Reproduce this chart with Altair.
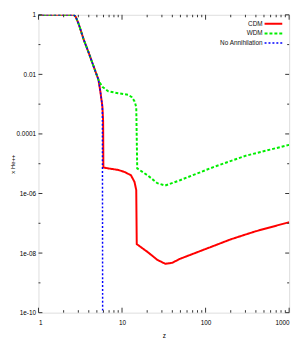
import altair as alt
import pandas as pd
import math

# ---- data ----
common_z = [1.0, 2.65, 2.80, 3.03, 3.48, 3.98, 4.56, 5.22]
common_y = [1.0, 1.0, 0.84, 0.49, 0.146, 0.0545, 0.0188, 0.00664]

cdm_z = common_z + [5.51, 5.82, 5.94, 5.98, 6.85, 8.97, 10.8, 12.8, 14.1, 14.8, 15.0,
                    20.2, 26.5, 32.9, 39.8, 49.4, 102.7, 202, 398, 1000]
cdm_y = common_y + [0.0026, 8.3e-4, 2.67e-4, 7.5e-6, 6.95e-6, 6.2e-6, 5.25e-6, 4.08e-6,
                    2.45e-6, 1.3e-6, 2.0e-8, 1.09e-8, 5.9e-9, 4.37e-9, 4.7e-9, 6.4e-9,
                    1.41e-8, 2.92e-8, 5.4e-8, 1.09e-7]

wdm_z = common_z + [5.36, 5.82, 6.85, 8.97, 11.8, 13.1, 14.2, 14.8, 15.2, 20.2, 26.5,
                    32.9, 49.4, 124, 304, 1000]
wdm_y = common_y + [5.57e-3, 3.81e-3, 2.71e-3, 2.32e-3, 2.07e-3, 1.71e-3, 1.22e-3,
                    7.7e-4, 6.95e-6, 4.08e-6, 2.22e-6, 1.85e-6, 2.79e-6, 7.7e-6,
                    1.86e-5, 4.3e-5]

noann_z = common_z + [5.51, 5.82, 5.86]
noann_y = common_y + [0.0026, 8.3e-4, 1e-10]

series_names = ["CDM", "WDM", "No Annihilation"]
series_colors = ["#ff0000", "#00ee00", "#0000ff"]

x_tick_values = [1, 10, 100, 1000]
x_tick_labels = ["1", "10", "100", "1000"]
x_minor = [m * d for d in [1, 10, 100] for m in range(2, 10)]
y_tick_values = [1, 1e-2, 1e-4, 1e-6, 1e-8, 1e-10]
y_tick_labels = ["1", "0.01", "0.0001", "1e-06", "1e-08", "1e-10"]
y_minor = [1e-1, 1e-3, 1e-5, 1e-7, 1e-9]

W, H = 255, 303
FONT = "Liberation Sans"
FS = 6.5


def make_df(zs, ys):
    return pd.DataFrame({"z": zs, "y": ys, "i": list(range(len(zs)))})


def label_expr(values, labels):
    expr = "''"
    for v, l in reversed(list(zip(values, labels))):
        e = round(math.log10(v))
        expr = f"(abs(log(datum.value)/LN10 - ({e})) < 0.5 ? '{l}' : {expr})"
    return expr


xscale = alt.Scale(type="log", domain=[1, 1000], nice=False)
yscale = alt.Scale(type="log", domain=[1e-10, 1], nice=False)

xenc = alt.X("z:Q", scale=xscale,
             axis=alt.Axis(values=x_tick_values, labelExpr=label_expr(x_tick_values, x_tick_labels),
                           title="z", ticks=False, domain=False, grid=False,
                           labelPadding=7, titlePadding=7, titleFontWeight="normal",
                           labelFont=FONT, labelFontSize=FS, titleFont=FONT, titleFontSize=FS))
yenc = alt.Y("y:Q", scale=yscale,
             axis=alt.Axis(values=y_tick_values, labelExpr=label_expr(y_tick_values, y_tick_labels),
                           title="x He++", ticks=False, domain=False, grid=False,
                           labelPadding=3, titlePadding=1, titleFontWeight="normal",
                           labelFont=FONT, labelFontSize=FS, titleFont=FONT, titleFontSize=6))


def line(zs, ys, color, dash, width):
    return alt.Chart(make_df(zs, ys)).mark_line(
        color=color, strokeDash=dash, strokeWidth=width, clip=True, interpolate="linear"
    ).encode(x=xenc, y=yenc, order=alt.Order("i:Q"))


red = line(cdm_z, cdm_y, series_colors[0], [1, 0], 2)
green = line(wdm_z, wdm_y, series_colors[1], [3, 2], 2)
blue = line(noann_z, noann_y, series_colors[2], [2, 2], 1.5)

# inward ticks
xmaj = pd.DataFrame({"z": x_tick_values})
xmin = pd.DataFrame({"z": x_minor})
ymaj = pd.DataFrame({"y": y_tick_values})
ymin = pd.DataFrame({"y": y_minor})
tc = "#333333"

def xt(df, y0, y1):
    return alt.Chart(df).mark_rule(color=tc, strokeWidth=1).encode(
        x=alt.X("z:Q", scale=xscale), y=alt.value(y0), y2=alt.value(y1))

def yt(df, x0, x1):
    return alt.Chart(df).mark_rule(color=tc, strokeWidth=1).encode(
        y=alt.Y("y:Q", scale=yscale), x=alt.value(x0), x2=alt.value(x1))

ticks = [xt(xmaj, H, H - 5), xt(xmin, H, H - 2.5), xt(xmaj, 0, 5), xt(xmin, 0, 2.5),
         yt(ymaj, 0, 4), yt(ymin, 0, 2), yt(ymaj, W, W - 4), yt(ymin, W, W - 2)]

# legend (gnuplot style: label then sample)
leg_rows = [9, 19, 28.6]
leg_dash = [[1, 0], [3, 2], [2, 2]]
leg_width = [2, 2, 1.5]
legend_layers = []
for name, col, yy, dsh, lw in zip(series_names, series_colors, leg_rows, leg_dash, leg_width):
    legend_layers.append(
        alt.Chart(pd.DataFrame({"t": [name]})).mark_text(
            align="right", baseline="middle", font=FONT, fontSize=FS, color="#111111"
        ).encode(text="t:N", x=alt.value(228), y=alt.value(yy))
    )
    legend_layers.append(
        alt.Chart(pd.DataFrame({"t": [name]})).mark_rule(
            color=col, strokeDash=dsh, strokeWidth=lw
        ).encode(x=alt.value(230), x2=alt.value(248), y=alt.value(yy))
    )

chart = alt.layer(red, green, blue, *ticks, *legend_layers).properties(
    width=W, height=H,
    autosize=alt.AutoSizeParams(type="none"),
    padding={"left": 31, "top": 4, "right": 8, "bottom": 30},
).configure_view(stroke="#333333", strokeWidth=1).configure_axis(
    labelFont=FONT, labelFontSize=FS, labelColor="#111111",
    titleFont=FONT, titleFontSize=FS, titleFontWeight="normal", titleColor="#111111",
).configure(background="white")

chart.save("out.html", embed_options={"renderer": "svg", "actions": False})
